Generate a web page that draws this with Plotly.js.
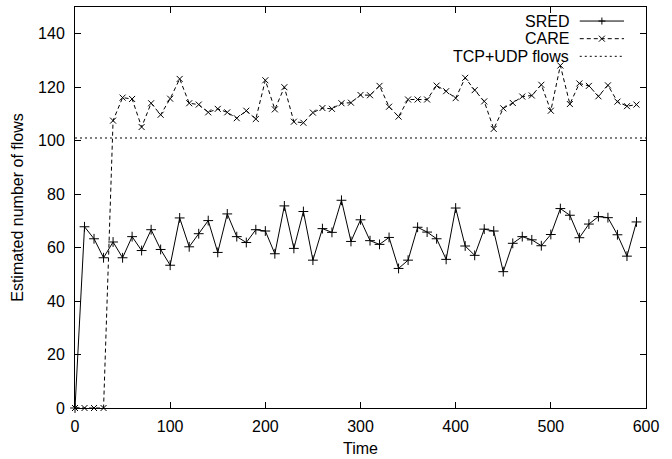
<!DOCTYPE html>
<html>
<head>
<meta charset="utf-8">
<script src="https://cdn.plot.ly/plotly-3.0.1.min.js"></script>
<style>html,body{margin:0;padding:0;background:#fff;}#chart{width:672px;height:459px;}</style>
</head>
<body>
<div id="chart"></div>
<script>
const time = [0,10,20,30,40,50,60,70,80,90,
  100,110,120,130,140,150,160,170,180,190,
  200,210,220,230,240,250,260,270,280,290,
  300,310,320,330,340,350,360,370,380,390,
  400,410,420,430,440,450,460,470,480,490,
  500,510,520,530,540,550,560,570,580,590];
const sred = [0,67.8,63.3,56.2,62.1,56.2,64.1,58.9,66.7,59.3,
  53.4,71.1,60.3,65.2,70.1,58.2,72.6,64.1,61.9,66.7,
  66.2,57.7,75.6,59.7,73.5,55.3,67.1,65.7,77.7,62.3,
  70.4,62.6,61.2,63.8,52.2,55.3,67.6,65.8,63.3,55.6,
  74.8,60.6,57.1,66.9,66.2,51.0,61.6,64.1,62.9,60.7,
  64.9,74.6,72.1,63.7,68.8,71.6,71.2,64.8,56.8,69.6];
const care = [0,0,0,0,107.5,116.1,115.6,105.1,114.0,109.7,
  115.7,123.1,114.0,113.5,110.6,111.9,110.6,108.4,111.2,108.1,
  122.6,111.7,120.0,107.1,106.7,110.5,112.2,111.9,114.0,114.2,
  117.1,117.0,120.5,112.7,109.0,115.4,115.4,115.4,120.6,118.5,
  115.9,123.5,118.9,114.7,104.4,112.1,114.1,116.5,116.9,120.9,
  111.2,128.1,113.7,121.4,120.5,116.6,120.7,114.6,112.9,113.5];
const flowsX = [0, 600];
const flowsY = [101, 101];
const seriesNames = ["SRED", "CARE", "TCP+UDP flows"];
const xTicks = [0,100,200,300,400,500,600];
const yTicks = [0,20,40,60,80,100,120,140];

const FONT = "Liberation Sans, Arial, Helvetica, sans-serif";
const dashCare = "4px,3px";
const dotFlows = "2px,3px";

const traces = [
  {x: time, y: sred, name: seriesNames[0], mode: "lines+markers", type: "scatter",
   line: {color: "#000", width: 1},
   marker: {symbol: "cross-thin-open", size: 7, color: "#000", line: {color: "#000", width: 1}},
   showlegend: false, cliponaxis: false},
  {x: time, y: care, name: seriesNames[1], mode: "lines+markers", type: "scatter",
   line: {color: "#000", width: 1, dash: dashCare},
   marker: {symbol: "x-thin-open", size: 6, color: "#000", line: {color: "#000", width: 1}},
   showlegend: false, cliponaxis: false},
  {x: flowsX, y: flowsY, name: seriesNames[2], mode: "lines", type: "scatter",
   line: {color: "#000", width: 1, dash: dotFlows}, showlegend: false}
];

// custom gnuplot-style legend (text right, sample left)
const legY = [0.965, 0.921, 0.877];
const txtX = 0.869, l0 = 0.884, l1 = 0.9615, mX = (l0 + l1) / 2;
const annotations = seriesNames.map((n, i) => ({
  xref: "paper", yref: "paper", x: txtX, y: legY[i], text: n, showarrow: false,
  xanchor: "right", yanchor: "middle", font: {family: FONT, size: 16, color: "#000"}
}));
const styles = [{dash: "solid"}, {dash: dashCare}, {dash: dotFlows}];
const shapes = [];
styles.forEach((s, i) => {
  shapes.push({type: "line", xref: "paper", yref: "paper", x0: l0, x1: l1, y0: legY[i], y1: legY[i],
    line: {color: "#000", width: 1, dash: s.dash}});
});
// legend markers: + and x, pixel sized
shapes.push({type: "path", xref: "paper", yref: "paper", xsizemode: "pixel", ysizemode: "pixel",
  xanchor: mX, yanchor: legY[0], path: "M-3.5,0 L3.5,0 M0,-3.5 L0,3.5", line: {color: "#000", width: 1}});
shapes.push({type: "path", xref: "paper", yref: "paper", xsizemode: "pixel", ysizemode: "pixel",
  xanchor: mX, yanchor: legY[1], path: "M-3,-3 L3,3 M-3,3 L3,-3", line: {color: "#000", width: 1}});

const layout = {
  width: 672, height: 459,
  margin: {l: 75, r: 26, t: 7, b: 51, pad: 0},
  paper_bgcolor: "#fff", plot_bgcolor: "#fff",
  font: {family: FONT, size: 16, color: "#000"},
  showlegend: false,
  xaxis: {range: [0, 600], tickvals: xTicks, ticktext: xTicks.map(String),
    ticks: "inside", ticklen: 6, tickwidth: 1, tickcolor: "#000",
    showline: true, linecolor: "#000", linewidth: 1, mirror: "allticks",
    showgrid: false, zeroline: false, ticklabelstandoff: 4,
    tickfont: {family: FONT, size: 16, color: "#000"},
    title: {text: "Time", font: {family: FONT, size: 16, color: "#000"}, standoff: 8}},
  yaxis: {range: [0, 150], tickvals: yTicks, ticktext: yTicks.map(String),
    ticks: "inside", ticklen: 6, tickwidth: 1, tickcolor: "#000",
    showline: true, linecolor: "#000", linewidth: 1, mirror: "allticks",
    showgrid: false, zeroline: false, ticklabelstandoff: 6,
    tickfont: {family: FONT, size: 16, color: "#000"},
    title: {text: "Estimated number of flows", font: {family: FONT, size: 16, color: "#000"}, standoff: 10}},
  annotations: annotations,
  shapes: shapes
};

Plotly.newPlot("chart", traces, layout, {displayModeBar: false, staticPlot: true});
</script>
</body>
</html>
